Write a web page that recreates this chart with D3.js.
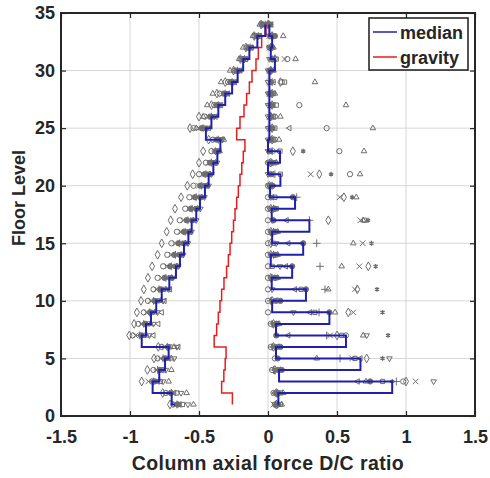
<!DOCTYPE html>
<html>
<head>
<meta charset="utf-8">
<script src="https://cdn.jsdelivr.net/npm/d3@7"></script>
<style>
  body { margin: 0; background: #fff; }
  text { font-family: "Liberation Sans", Arial, sans-serif; font-weight: bold; fill: #262626; }
</style>
</head>
<body>
<svg id="chart" width="490" height="478"></svg>
<script>
// floor levels, bottom to top
const floors = [1,2,3,4,5,6,7,8,9,10,11,12,13,14,15,16,17,18,19,20,21,22,23,24,25,26,27,28,29,30,31,32,33,34];

// median D/C ratio per floor (compression side / tension side) and gravity-only value
const medianComp = [-0.674,-0.698,-0.836,-0.788,-0.746,-0.72,-0.915,-0.884,-0.848,-0.81,-0.77,-0.715,-0.667,-0.638,-0.609,-0.577,-0.553,-0.52,-0.493,-0.457,-0.43,-0.396,-0.367,-0.345,-0.45,-0.41,-0.36,-0.31,-0.26,-0.22,-0.18,-0.135,-0.077,-0.02];
const medianTens = [0.07,0.075,0.9,0.08,0.67,0.058,0.565,0.058,0.445,0.03,0.275,0.027,0.175,0.02,0.255,0.03,0.3,0.027,0.196,0.015,0.09,0.0,0.087,0.0,0.01,0.01,0.01,0.01,0.01,0.01,0.05,0.02,0.03,0.01];
const gravity = [-0.258,-0.258,-0.336,-0.32,-0.31,-0.304,-0.39,-0.372,-0.36,-0.348,-0.336,-0.319,-0.3,-0.287,-0.275,-0.263,-0.25,-0.239,-0.227,-0.215,-0.203,-0.19,-0.179,-0.167,-0.227,-0.203,-0.174,-0.155,-0.135,-0.116,-0.087,-0.07,-0.046,-0.015];

// marker used by each ground-motion record
const recordMarks = ["o","d","x","+","*","s","^","v","<","f"];

// per floor, one value per record (same order as recordMarks)
const compByFloor = [
  [-0.686,-0.71,-0.67,-0.66,-0.665,-0.62,-0.54,-0.58,-0.64,-0.655],
  [-0.74,-0.763,-0.72,-0.70,-0.695,-0.66,-0.59,-0.63,-0.68,-0.705],
  [-0.84,-0.915,-0.867,-0.83,-0.835,-0.78,-0.72,-0.76,-0.80,-0.82],
  [-0.83,-0.874,-0.81,-0.80,-0.79,-0.76,-0.70,-0.74,-0.77,-0.785],
  [-0.80,-0.826,-0.78,-0.76,-0.75,-0.74,-0.70,-0.68,-0.72,-0.745],
  [-0.77,-0.795,-0.75,-0.73,-0.72,-0.71,-0.68,-0.66,-0.65,-0.725],
  [-0.98,-1.005,-0.96,-0.93,-0.915,-0.90,-0.88,-0.86,-0.83,-0.92],
  [-0.94,-0.97,-0.92,-0.90,-0.885,-0.87,-0.85,-0.83,-0.795,-0.89],
  [-0.90,-0.95,-0.88,-0.86,-0.85,-0.84,-0.82,-0.80,-0.77,-0.855],
  [-0.87,-0.92,-0.85,-0.83,-0.81,-0.80,-0.78,-0.76,-0.75,-0.82],
  [-0.83,-0.90,-0.81,-0.79,-0.77,-0.76,-0.74,-0.72,-0.71,-0.78],
  [-0.80,-0.87,-0.77,-0.74,-0.72,-0.71,-0.70,-0.69,-0.705,-0.75],
  [-0.76,-0.84,-0.73,-0.70,-0.68,-0.67,-0.66,-0.65,-0.665,-0.71],
  [-0.73,-0.80,-0.70,-0.67,-0.65,-0.64,-0.63,-0.614,-0.635,-0.68],
  [-0.70,-0.77,-0.67,-0.64,-0.62,-0.61,-0.60,-0.58,-0.605,-0.65],
  [-0.66,-0.734,-0.63,-0.60,-0.585,-0.575,-0.565,-0.553,-0.575,-0.61],
  [-0.64,-0.705,-0.61,-0.58,-0.56,-0.55,-0.54,-0.52,-0.55,-0.59],
  [-0.60,-0.674,-0.57,-0.55,-0.53,-0.52,-0.51,-0.49,-0.52,-0.56],
  [-0.57,-0.63,-0.54,-0.52,-0.50,-0.49,-0.48,-0.46,-0.49,-0.53],
  [-0.54,-0.585,-0.50,-0.48,-0.46,-0.455,-0.44,-0.43,-0.45,-0.49],
  [-0.50,-0.546,-0.47,-0.45,-0.44,-0.43,-0.42,-0.41,-0.43,-0.46],
  [-0.45,-0.50,-0.43,-0.41,-0.40,-0.39,-0.38,-0.37,-0.39,-0.42],
  [-0.41,-0.47,-0.39,-0.38,-0.37,-0.36,-0.35,-0.36,-0.37,-0.38],
  [-0.40,-0.43,-0.38,-0.36,-0.35,-0.34,-0.32,-0.33,-0.34,-0.37],
  [-0.54,-0.565,-0.50,-0.47,-0.46,-0.45,-0.52,-0.44,-0.43,-0.48],
  [-0.46,-0.50,-0.43,-0.41,-0.41,-0.40,-0.47,-0.39,-0.38,-0.42],
  [-0.39,-0.41,-0.37,-0.36,-0.36,-0.35,-0.44,-0.35,-0.34,-0.37],
  [-0.35,-0.37,-0.33,-0.31,-0.31,-0.30,-0.40,-0.30,-0.29,-0.32],
  [-0.29,-0.31,-0.27,-0.26,-0.26,-0.25,-0.34,-0.25,-0.24,-0.27],
  [-0.24,-0.25,-0.23,-0.22,-0.22,-0.21,-0.275,-0.21,-0.20,-0.23],
  [-0.19,-0.20,-0.18,-0.17,-0.18,-0.16,-0.21,-0.17,-0.16,-0.18],
  [-0.15,-0.16,-0.14,-0.13,-0.14,-0.12,-0.18,-0.13,-0.12,-0.14],
  [-0.09,-0.10,-0.08,-0.07,-0.08,-0.06,-0.11,-0.07,-0.06,-0.08],
  [-0.04,-0.05,-0.03,-0.02,-0.03,-0.01,-0.06,-0.02,-0.01,-0.04]
];
const tensByFloor = [
  [0.05,0.06,0.04,0.07,0.08,0.09,0.10,0.05,0.06,0.07],
  [0.04,0.06,0.05,0.07,0.08,0.09,0.11,0.06,0.05,0.07],
  [0.98,1.0,1.07,0.93,0.90,0.83,0.71,1.2,0.65,0.74],
  [0.03,0.05,0.06,0.04,0.07,0.08,0.09,0.05,0.06,0.10],
  [0.05,0.715,0.61,0.522,0.83,0.63,0.353,0.88,0.67,0.07],
  [0.02,0.04,0.05,0.03,0.06,0.07,0.08,0.05,0.04,0.09],
  [0.565,0.50,0.45,0.425,0.87,0.534,0.69,0.715,0.147,0.06],
  [0.02,0.04,0.05,0.03,0.06,0.07,0.08,0.04,0.05,0.06],
  [0.0,0.582,0.618,0.37,0.83,0.34,0.486,0.184,0.304,0.445],
  [0.0,0.03,0.04,0.02,0.05,0.06,0.07,0.03,0.05,0.09],
  [0.0,0.647,0.63,0.413,0.79,0.24,0.437,0.03,0.196,0.275],
  [0.0,0.02,0.04,0.03,0.05,0.06,0.07,0.02,0.04,0.05],
  [0.0,0.727,0.662,0.377,0.78,0.03,0.534,0.087,0.13,0.175],
  [0.0,0.02,0.03,0.04,0.05,0.06,0.07,0.02,0.03,0.05],
  [0.0,0.02,0.686,0.353,0.75,0.04,0.618,0.06,0.147,0.255],
  [0.0,0.02,0.03,0.04,0.05,0.06,0.07,0.02,0.03,0.05],
  [0.0,0.437,0.67,0.30,0.725,0.70,0.69,0.03,0.135,0.04],
  [0.0,0.02,0.03,0.04,0.05,0.06,0.04,0.01,0.03,0.05],
  [0.0,0.55,0.52,0.208,0.61,0.05,0.64,0.02,0.03,0.18],
  [0.0,0.01,0.02,0.03,0.04,0.03,0.02,0.01,0.02,0.03],
  [0.594,0.372,0.309,0.05,0.457,0.09,0.667,0.0,0.03,0.02],
  [0.0,0.02,0.03,0.01,0.04,0.05,0.06,0.01,0.02,0.03],
  [0.517,0.18,0.06,0.03,0.255,0.087,0.696,0.0,0.02,0.01],
  [0.05,0.03,0.02,0.01,0.02,0.04,0.08,0.0,0.03,0.02],
  [0.425,0.03,0.02,0.01,0.04,0.05,0.76,0.0,0.155,0.02],
  [0.05,0.02,0.01,0.02,0.03,0.04,0.09,0.0,0.03,0.02],
  [0.227,0.03,0.02,0.01,0.03,0.06,0.565,0.0,0.04,0.02],
  [0.02,0.03,0.01,0.02,0.03,0.04,0.05,0.0,0.02,0.01],
  [0.10,0.09,0.01,0.03,0.02,0.12,0.34,0.0,0.04,0.02],
  [0.01,0.02,0.01,0.02,0.03,0.02,0.04,0.0,0.01,0.02],
  [0.14,0.05,0.12,0.03,0.02,0.06,0.20,0.01,0.04,0.03],
  [0.01,0.02,0.01,0.02,0.03,0.02,0.04,0.01,0.02,0.03],
  [0.02,0.03,0.01,0.03,0.04,0.02,0.11,0.01,0.03,0.05],
  [0.01,0.0,0.02,0.01,0.0,0.02,0.01,0.0,0.02,0.01]
];

const xTicks = [-1.5,-1,-0.5,0,0.5,1,1.5];
const yTicks = [0,5,10,15,20,25,30,35];

let svg = d3.select("#chart");
let x = d3.scaleLinear().domain([-1.5, 1.5]).range([61, 475]);
let y = d3.scaleLinear().domain([0, 35]).range([416, 13]);

svg.append("rect").attr("width", 490).attr("height", 478).attr("fill", "white");

// grid
let grid = svg.append("g");
grid.selectAll(".gx").data(xTicks).enter().append("line")
    .attr("x1", d => x(d)).attr("x2", d => x(d))
    .attr("y1", y(0)).attr("y2", y(35))
    .attr("stroke", "#d6d6d6").attr("stroke-width", 1);
grid.selectAll(".gy").data(yTicks).enter().append("line")
    .attr("y1", d => y(d)).attr("y2", d => y(d))
    .attr("x1", x(-1.5)).attr("x2", x(1.5))
    .attr("stroke", "#d6d6d6").attr("stroke-width", 1);

// scatter of all records
const shapes = {
    "o": [d3.symbolCircle, 0], "d": [d3.symbolDiamond, 0], "x": [d3.symbolTimes, 0],
    "+": [d3.symbolPlus, 0], "*": [d3.symbolAsterisk, 0], "s": [d3.symbolSquare, 0],
    "^": [d3.symbolTriangle2, 0], "v": [d3.symbolTriangle2, 180], "<": [d3.symbolTriangle2, -90],
    "f": [d3.symbolCircle, 0]
};
let pts = [];
floors.forEach(function(f, i) {
    recordMarks.forEach(function(m, j) {
        pts.push({floor: f, value: compByFloor[i][j], mark: m});
        pts.push({floor: f, value: tensByFloor[i][j], mark: m});
    });
});
svg.append("g").selectAll("path").data(pts).enter().append("path")
    .attr("d", d => d3.symbol().type(shapes[d.mark][0]).size(d.mark == "s" ? 18 : (d.mark == "*" ? 16 : 22))())
    .attr("transform", d => "translate(" + x(d.value) + "," + y(d.floor) + ") rotate(" + shapes[d.mark][1] + ")")
    .attr("fill", d => d.mark == "f" ? "#6e6e6e" : "none")
    .attr("stroke", "#6e6e6e").attr("stroke-width", d => d.mark == "*" ? 1.4 : 1);

// stairs, drawn from the top floor down
let stairs = d3.line()
    .x(d => x(d[0])).y(d => y(d[1]))
    .curve(d3.curveStepBefore);
function stairData(vals) {
    return floors.map((f, i) => [vals[i], f]).reverse();
}
svg.append("path").datum(stairData(gravity)).attr("d", stairs)
    .attr("fill", "none").attr("stroke", "#e31f1f").attr("stroke-width", 1.5);
svg.append("path").datum(stairData(medianComp)).attr("d", stairs)
    .attr("fill", "none").attr("stroke", "#2020ad").attr("stroke-width", 2);
svg.append("path").datum(stairData(medianTens)).attr("d", stairs)
    .attr("fill", "none").attr("stroke", "#2020ad").attr("stroke-width", 2);

// axes
let fmt = d => String(d);
svg.append("g").attr("transform", "translate(0," + y(0) + ")")
    .call(d3.axisBottom(x).tickValues(xTicks).tickFormat(fmt).tickSizeInner(-5).tickSizeOuter(0).tickPadding(14));
svg.append("g").attr("transform", "translate(0," + y(35) + ")")
    .call(d3.axisTop(x).tickValues(xTicks).tickFormat("").tickSizeInner(-5).tickSizeOuter(0));
svg.append("g").attr("transform", "translate(" + x(-1.5) + ",0)")
    .call(d3.axisLeft(y).tickValues(yTicks).tickFormat(fmt).tickSizeInner(-5).tickSizeOuter(0).tickPadding(6));
svg.append("g").attr("transform", "translate(" + x(1.5) + ",0)")
    .call(d3.axisRight(y).tickValues(yTicks).tickFormat("").tickSizeInner(-5).tickSizeOuter(0));
svg.selectAll(".domain").remove();
svg.selectAll(".tick line").attr("stroke", "#262626").attr("stroke-width", 1.2);
svg.selectAll(".tick text").attr("font-size", 18).attr("font-family", null).attr("fill", "#262626");

svg.append("rect")
    .attr("x", x(-1.5)).attr("y", y(35))
    .attr("width", x(1.5) - x(-1.5)).attr("height", y(0) - y(35))
    .attr("fill", "none").attr("stroke", "#262626").attr("stroke-width", 2);

// axis labels
svg.append("text").attr("x", x(0)).attr("y", 470).attr("text-anchor", "middle")
    .attr("font-size", 19.5).attr("letter-spacing", 0.4).text("Column axial force D/C ratio");
svg.append("text").attr("transform", "translate(25,198) rotate(-90)")
    .attr("text-anchor", "middle").attr("font-size", 18).text("Floor Level");

// legend
let legend = svg.append("g");
legend.append("rect").attr("x", 369).attr("y", 18).attr("width", 99).attr("height", 52)
    .attr("fill", "white").attr("stroke", "#1a1a1a").attr("stroke-width", 1.5);
const legendItems = [["median", "#2020ad"], ["gravity", "#e31f1f"]];
legendItems.forEach(function(item, i) {
    let ly = 32 + i * 25;
    legend.append("line").attr("x1", 373).attr("x2", 397).attr("y1", ly).attr("y2", ly)
        .attr("stroke", item[1]).attr("stroke-width", 1.5);
    legend.append("text").attr("x", 400).attr("y", ly + 6.5).attr("font-size", 18).text(item[0]);
});
</script>
</body>
</html>
